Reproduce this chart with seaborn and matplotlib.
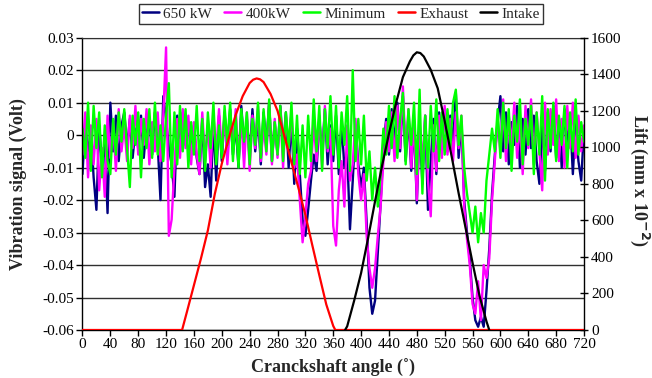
import numpy as np
import pandas as pd
import matplotlib
matplotlib.use("Agg")
import matplotlib.pyplot as plt
from matplotlib.lines import Line2D
import seaborn as sns

# ---- data -------------------------------------------------------------
# Vibration records in millivolts, one sample every 4 degrees, 0..720
crank_step_deg = 4

vib_650kw_mv = [
    -12, 4, -6, 2, -13, -23, 3, -9, -2, -24,
    10, -5, 6, -8, 3, 7, -4, 5, -7, 2,
    -4, 6, -7, 3, 5, -6, 7, -3, -20, 12,
    5, -4, -9, -19, 6, -5, 7, -3, 4, -6,
    3, -7, -12, 5, -16, -9, -19, 4, -14, 6,
    -8, 7, -4, 8, -6, 3, -10, 9, -3, 5,
    -7, 8, -5, 6, -9, 7, -3, 10, -8, 4,
    -6, 9, -4, 7, -10, 5, -15, 2, -12, -26,
    -31, -23, -14, -6, -11, 5, -6, 8, -9, 3,
    -8, 6, -12, 4, -10, -5, -29, -14, 3, -9,
    -16, -10, -27, -47, -55, -51, -36, -21, -4, 5,
    -6, 8, -3, 10, -5, 12, -8, 6, -11, 4,
    -21, 3, -15, 6, -23, -8, 5, -12, 7, -4,
    8, -5, 6, -3, 13, -7, 4, -20, -30, -38,
    -50, -57, -59, -56, -59, -48, -35, -18, -6, 4,
    12, -5, 7, -9, 4, -3, 9, -10, 5, -6,
    8, -4, 6, -8, -15, 3, -11, 7, -5, 9,
    -7, 5, -10, 8, -3, 6, -12, 4, -8, -14,
    2,
]

vib_400kw_mv = [
    -6, 7, -13, 3, -9, 5, -17, -4, -19, 6,
    -7, 4, -11, 8, -5, 3, -8, 6, -4, 9,
    -6, 5, -3, 8, -9, 4, -5, 7, -8, 6,
    27, -31, -26, -10, 5, -7, 8, -4, 6, -9,
    4, -6, -12, 7, -8, 3, -10, 6, -5, 8,
    -5, 6, -9, 4, -3, 8, -7, 5, -10, 7,
    -11, 6, -4, 9, -8, 3, -6, 10, -9, 5,
    -7, 8, -10, 6, -4, 7, -10, -6, -20, -33,
    -25, -15, -11, 4, -8, 6, -10, 9, -5, 2,
    -28, -34, -17, -8, -22, 3, -14, -9, 5, -12,
    -20, -12, -31, -41, -47, -41, -31, -22, -8, 4,
    -5, 7, -8, 9, -4, 15, -6, 8, -10, 5,
    -20, 4, -9, 6, -14, -25, 3, -11, 6, -7,
    9, -6, 5, -8, 7, -4, 6, -22, -32, -40,
    -52, -55, -45, -57, -40, -44, -38, -20, -8, 5,
    -5, 11, -8, 6, -3, 10, -7, 4, -12, 9,
    -4, 11, -9, 7, -5, -17, 10, -6, 8, -3,
    11, -8, 5, -10, 9, -4, 10, -7, 6, -5,
    3,
]

vib_minimum_mv = [
    2, -7, 10, -11, 9, -4, 7, -13, 3, -8,
    -12, 5, -6, 7, -2, 8, -4, -16, 6, -3,
    7, -13, 5, -4, 8, -7, 10, -6, 3, -8,
    6, 16, -13, 7, -9, 9, -5, 8, -10, 4,
    -6, 9, -8, 5, -11, 7, -4, 10, -9, 3,
    -7, 9, -3, 10, -8, 6, -10, 8, -2, 7,
    -9, 5, -3, 10, -7, 8, -5, 11, -8, 4,
    -6, 9, -8, 7, -4, 10, -9, 6, -12, 3,
    -13, 6, -8, 11, -5, 9, -11, 8, -4, 12,
    -6, 9, -10, 7, -3, 12, -11, 20, -8, 5,
    -9, 6, -14, -5, -20, -10, -22, -12, 2, -6,
    9, -4, 12, -7, 5, 13, -9, 8, -3, 10,
    -12, 14, -18, 6, -10, 9, -5, 11, -8, 7,
    -6, 8, -4, 10, 14, -3, 6, -10, -18, -24,
    -30, -22, -33, -24, -30, -14, -6, 2, -5, 8,
    -7, 10, -4, 8, -11, 6, -2, 11, -9, 5,
    -3, 9, -12, 7, -6, 12, -14, 8, -4, 10,
    -8, 6, -3, 9, -10, 7, -5, 11, -6, 4,
    -2,
]

# Valve lift (mm x 1e-2) against crank angle
exhaust_angle = [0, 143, 150, 160, 170, 180, 190, 200, 210, 220, 230, 240, 245,
                 250, 255, 260, 270, 280, 290, 300, 310, 320, 330, 340, 350,
                 360, 363, 720]
exhaust_lift = [0, 0, 100, 245, 390, 545, 745, 910, 1050, 1177, 1280, 1352, 1370,
                1377, 1372, 1357, 1292, 1200, 1060, 918, 778, 630, 463, 300, 140,
                22, 0, 0]

intake_angle = [377, 380, 390, 400, 410, 420, 430, 440, 450, 460, 470, 475, 480,
                485, 490, 500, 510, 520, 530, 540, 550, 560, 570, 580, 584]
intake_lift = [0, 20, 160, 312, 502, 704, 897, 1075, 1240, 1384, 1470, 1503, 1520,
               1516, 1497, 1424, 1323, 1144, 950, 749, 559, 368, 187, 47, 0]

series_names = ["650 kW", "400kW", "Minimum", "Exhaust", "Intake"]
series_colors = ["#000080", "#FF00FF", "#00FF00", "#FF0000", "#000000"]

x_ticks = list(range(0, 721, 40))
volt_ticks = [-0.06, -0.05, -0.04, -0.03, -0.02, -0.01, 0, 0.01, 0.02, 0.03]
volt_tick_labels = ["-0.06", "-0.05", "-0.04", "-0.03", "-0.02", "-0.01",
                    "0", "0.01", "0.02", "0.03"]
lift_ticks = [0, 200, 400, 600, 800, 1000, 1200, 1400, 1600]

# ---- figure -----------------------------------------------------------
sns.set_style("ticks")
plt.rcParams["font.family"] = ["Liberation Serif", "DejaVu Serif"]
plt.rcParams["font.size"] = 10.5

angles = np.arange(0, 721, crank_step_deg)
vib = pd.DataFrame({
    "angle": angles,
    "650 kW": np.asarray(vib_650kw_mv) / 1000.0,
    "400kW": np.asarray(vib_400kw_mv) / 1000.0,
    "Minimum": np.asarray(vib_minimum_mv) / 1000.0,
})

fig = plt.figure(figsize=(6.52, 3.78), dpi=100)
ax = fig.add_axes([0.1265, 0.127, 0.7692, 0.7733])

for name, color in zip(series_names[:3], series_colors[:3]):
    sns.lineplot(data=vib, x="angle", y=name, color=color, linewidth=1.7,
                 ax=ax, legend=False)

ax.set_xlim(0, 720)
ax.set_ylim(-0.06, 0.03)
ax.set_xticks(x_ticks)
ax.set_xticklabels([str(t) for t in x_ticks])
ax.set_yticks(volt_ticks)
ax.set_yticklabels(volt_tick_labels)
ax.set_xlabel("")
ax.set_ylabel("")
ax.yaxis.grid(True, color="#303030", linewidth=1.0)
ax.set_axisbelow(True)
ax.tick_params(axis="both", direction="out", length=4, width=1,
               colors="black", labelsize=11, pad=2)
for side in ("left", "bottom"):
    ax.spines[side].set_color("black")
    ax.spines[side].set_linewidth(1.0)
ax.spines["top"].set_color("#303030")
ax.spines["right"].set_visible(False)

ax2 = ax.twinx()
sns.lineplot(x=exhaust_angle, y=exhaust_lift, color=series_colors[3],
             linewidth=1.6, ax=ax2, legend=False)
sns.lineplot(x=intake_angle, y=intake_lift, color=series_colors[4],
             linewidth=1.6, ax=ax2, legend=False)
ax2.set_ylim(0, 1600)
ax2.set_yticks(lift_ticks)
ax2.set_yticklabels([str(t) for t in lift_ticks])
ax2.set_ylabel("")
ax2.tick_params(axis="y", direction="inout", length=6, width=1,
                colors="black", labelsize=11, pad=2)
ax2.spines["right"].set_color("black")
ax2.spines["right"].set_linewidth(1.0)
for side in ("top", "left", "bottom"):
    ax2.spines[side].set_visible(False)

# axis titles
fig.text(333 / 652, 1 - 368 / 378, "Cranckshaft angle (˚)", ha="center",
         va="center", fontsize=13, fontweight="bold")
fig.text(18 / 652, 1 - 184 / 378, "Vibration signal (Volt)", ha="center",
         va="center", rotation=90, fontsize=13, fontweight="bold")
fig.text(640 / 652, 1 - 180 / 378, r"Lift (mm x 10$^{\mathbf{-2}}$)",
         ha="center", va="center", rotation=270, fontsize=13,
         fontweight="bold")

handles = [Line2D([], [], color=c, linewidth=1.8) for c in series_colors]
leg = fig.legend(handles, series_names, loc="upper center",
                 bbox_to_anchor=(341 / 652, 1 - 4 / 378), ncol=5,
                 frameon=True, fancybox=False, fontsize=11,
                 handlelength=1.1, handletextpad=0.3, columnspacing=0.8,
                 borderpad=0.2, borderaxespad=0.0)
leg.get_frame().set_edgecolor("black")
leg.get_frame().set_linewidth(1.0)

fig.savefig("out.png", dpi=100)
